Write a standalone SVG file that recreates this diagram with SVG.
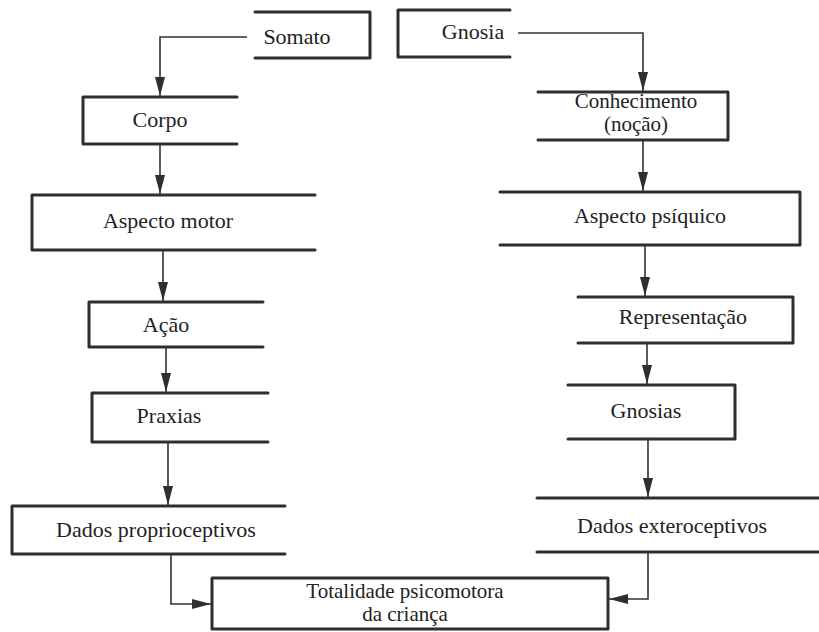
<svg xmlns="http://www.w3.org/2000/svg" width="819" height="632" viewBox="0 0 819 632">
  <style>
    .box { fill: none; stroke: #2e2e2e; stroke-width: 3; stroke-linejoin: round; stroke-linecap: round; }
    .link { fill: none; stroke: #333; stroke-width: 1.6; }
    text { font-family: "Liberation Serif", "DejaVu Serif", serif; font-size: 22px; fill: #222; text-anchor: middle; }
    text.two { font-size: 21px; }
  </style>
  <defs>
    <marker id="arrow" viewBox="0 0 19 10" refX="19" refY="5" markerWidth="19" markerHeight="10" markerUnits="userSpaceOnUse" orient="auto">
      <path d="M0,0 L19,5 L0,10 Z" fill="#2e2e2e"/>
    </marker>
  </defs>
  <rect width="819" height="632" fill="#fff"/>

  <!-- left column -->
  <g id="somato">
    <path class="box" d="M255,12 H370 V58 H255"/>
    <text x="297" y="44">Somato</text>
  </g>
  <g id="corpo">
    <path class="box" d="M237,97 H83 V144 H237"/>
    <text x="160" y="127">Corpo</text>
  </g>
  <g id="aspecto-motor">
    <path class="box" d="M315,195 H32 V250 H315"/>
    <text x="168" y="228">Aspecto motor</text>
  </g>
  <g id="acao">
    <path class="box" d="M263,302 H89 V347 H263"/>
    <text x="166" y="332">Ação</text>
  </g>
  <g id="praxias">
    <path class="box" d="M268,393 H92 V442 H268"/>
    <text x="169" y="423">Praxias</text>
  </g>
  <g id="dados-proprioceptivos">
    <path class="box" d="M285,506 H12 V554 H285"/>
    <text x="156" y="537">Dados proprioceptivos</text>
  </g>

  <!-- right column -->
  <g id="gnosia">
    <path class="box" d="M510,10 H398 V57 H510"/>
    <text x="473" y="39">Gnosia</text>
  </g>
  <g id="conhecimento">
    <path class="box" d="M538,92 H728 V140 H538"/>
    <text class="two" x="636" y="108">Conhecimento</text>
    <text class="two" x="636" y="131">(noção)</text>
  </g>
  <g id="aspecto-psiquico">
    <path class="box" d="M500,192 H800 V245 H500"/>
    <text x="650" y="223">Aspecto psíquico</text>
  </g>
  <g id="representacao">
    <path class="box" d="M578,297 H793 V343 H578"/>
    <text x="683" y="324">Representação</text>
  </g>
  <g id="gnosias">
    <path class="box" d="M568,385 H735 V439 H568"/>
    <text x="646" y="418">Gnosias</text>
  </g>
  <g id="dados-exteroceptivos">
    <path class="box" d="M537,498 H824 V552 H537"/>
    <text x="672" y="533">Dados exteroceptivos</text>
  </g>

  <!-- result -->
  <g id="totalidade">
    <rect class="box" x="212" y="578" width="396" height="51"/>
    <text class="two" x="405" y="598">Totalidade psicomotora</text>
    <text class="two" x="405" y="621">da criança</text>
  </g>

  <g id="connectors">
    <path class="link" d="M247,37 H160 V96" marker-end="url(#arrow)"/>
    <path class="link" d="M160,144 V194" marker-end="url(#arrow)"/>
    <path class="link" d="M163,250 V301" marker-end="url(#arrow)"/>
    <path class="link" d="M166,347 V392" marker-end="url(#arrow)"/>
    <path class="link" d="M168,442 V505" marker-end="url(#arrow)"/>
    <path class="link" d="M171,554 V604 H211" marker-end="url(#arrow)"/>

    <path class="link" d="M518,33 H643 V91" marker-end="url(#arrow)"/>
    <path class="link" d="M643,140 V191" marker-end="url(#arrow)"/>
    <path class="link" d="M645,245 V296" marker-end="url(#arrow)"/>
    <path class="link" d="M647,343 V384" marker-end="url(#arrow)"/>
    <path class="link" d="M648,439 V497" marker-end="url(#arrow)"/>
    <path class="link" d="M648,552 V599 H609" marker-end="url(#arrow)"/>
  </g>
</svg>
